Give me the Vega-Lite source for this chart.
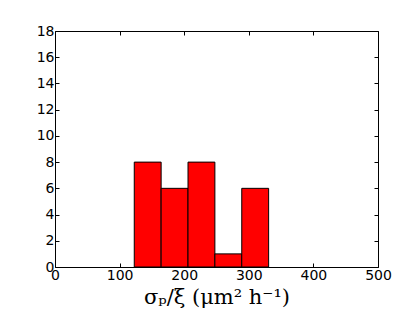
{
  "$schema": "https://vega.github.io/schema/vega-lite/v6.json",
  "width": 323,
  "height": 236,
  "autosize": {"type": "none"},
  "padding": {"left": 55, "top": 31, "right": 42, "bottom": 48},
  "background": "white",
  "config": {
    "view": {"stroke": "black", "strokeWidth": 1},
    "axis": {
      "grid": false,
      "domain": false,
      "tickSize": -4,
      "tickColor": "black",
      "labelFont": "DejaVu Sans",
      "labelFontSize": 14,
      "labelColor": "black",
      "titleColor": "black"
    }
  },
  "data": {
    "values": [
      {"bin_start": 122.7, "bin_end": 164.3, "count": 8},
      {"bin_start": 164.3, "bin_end": 205.9, "count": 6},
      {"bin_start": 205.9, "bin_end": 247.5, "count": 8},
      {"bin_start": 247.5, "bin_end": 289.1, "count": 1},
      {"bin_start": 289.1, "bin_end": 330.7, "count": 6}
    ]
  },
  "layer": [
    {
      "mark": {"type": "bar", "fill": "#ff0000", "stroke": "black", "strokeWidth": 1},
      "encoding": {
        "x": {
          "field": "bin_start", "type": "quantitative",
          "scale": {"domain": [0, 500], "nice": false, "zero": false},
          "axis": {"values": [0, 100, 200, 300, 400, 500], "title": "σₚ/ξ (μm² h⁻¹)", "titleFont": "DejaVu Serif", "titleFontSize": 21, "titleFontWeight": "normal", "titlePadding": 4, "labelPadding": 5, "labelFlush": false}
        },
        "x2": {"field": "bin_end"},
        "y": {
          "field": "count", "type": "quantitative",
          "scale": {"domain": [0, 18], "nice": false},
          "axis": {"values": [0, 2, 4, 6, 8, 10, 12, 14, 16, 18], "title": null, "labelPadding": 5, "labelFlush": false}
        },
        "y2": {"datum": 0}
      }
    },
    {
      "mark": {"type": "bar", "opacity": 0},
      "encoding": {
        "x": {
          "field": "bin_start", "type": "quantitative",
          "scale": {"domain": [0, 500], "nice": false, "zero": false},
          "axis": {"orient": "top", "values": [0, 100, 200, 300, 400, 500], "labels": false, "title": null}
        },
        "x2": {"field": "bin_end"},
        "y": {
          "field": "count", "type": "quantitative",
          "scale": {"domain": [0, 18], "nice": false},
          "axis": {"orient": "right", "values": [0, 2, 4, 6, 8, 10, 12, 14, 16, 18], "labels": false, "title": null}
        },
        "y2": {"datum": 0}
      }
    }
  ],
  "resolve": {"axis": {"x": "independent", "y": "independent"}}
}
